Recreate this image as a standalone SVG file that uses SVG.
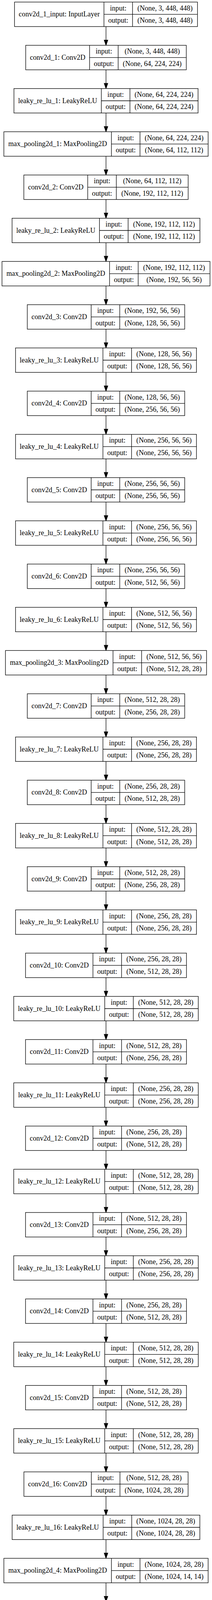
<svg xmlns="http://www.w3.org/2000/svg" width="544" height="6381" viewBox="0 0 544 6381">
<style>
.n rect{fill:#fff;stroke:#000;stroke-width:1.33}
.n path{fill:none;stroke:#000;stroke-width:1.33}
text{font-family:"Liberation Serif","Times New Roman",serif;font-size:18.14px;text-anchor:middle;fill:#000}
.e{fill:none;stroke:#000;stroke-width:1.33;marker-end:url(#arr)}
</style>
<defs>
<marker id="arr" markerUnits="userSpaceOnUse" viewBox="0 0 14 10" markerWidth="14" markerHeight="10" refX="14" refY="5" orient="auto" overflow="visible"><path d="M0.67,0.33L14,5L0.67,9.67Z" fill="#000" stroke="#000" stroke-width="1.33"/></marker>
</defs>
<rect width="544" height="6381" fill="#fff"/>
<g id="edges">
<path class="e" d="M272,68v48"/>
<path class="e" d="M272,178.67v48"/>
<path class="e" d="M272,289.33v48"/>
<path class="e" d="M272,400v48"/>
<path class="e" d="M272,510.67v48"/>
<path class="e" d="M272,621.33v48"/>
<path class="e" d="M272,732v48"/>
<path class="e" d="M272,842.67v48"/>
<path class="e" d="M272,953.33v48"/>
<path class="e" d="M272,1064v48"/>
<path class="e" d="M272,1174.67v48"/>
<path class="e" d="M272,1285.33v48"/>
<path class="e" d="M272,1396v48"/>
<path class="e" d="M272,1506.67v48"/>
<path class="e" d="M272,1617.33v48"/>
<path class="e" d="M272,1728v48"/>
<path class="e" d="M272,1838.67v48"/>
<path class="e" d="M272,1949.33v48"/>
<path class="e" d="M272,2060v48"/>
<path class="e" d="M272,2170.67v48"/>
<path class="e" d="M272,2281.33v48"/>
<path class="e" d="M272,2392v48"/>
<path class="e" d="M272,2502.67v48"/>
<path class="e" d="M272,2613.33v48"/>
<path class="e" d="M272,2724v48"/>
<path class="e" d="M272,2834.67v48"/>
<path class="e" d="M272,2945.33v48"/>
<path class="e" d="M272,3056v48"/>
<path class="e" d="M272,3166.67v48"/>
<path class="e" d="M272,3277.33v48"/>
<path class="e" d="M272,3388v48"/>
<path class="e" d="M272,3498.67v48"/>
<path class="e" d="M272,3609.33v48"/>
<path class="e" d="M272,3720v48"/>
<path class="e" d="M272,3830.67v48"/>
<path class="e" d="M272,3941.33v48"/>
<path class="e" d="M272,4052v48"/>
<path class="e" d="M272,4162.67v48"/>
<path class="e" d="M272,4273.33v48"/>
<path class="e" d="M272,4384v48"/>
<path class="e" d="M272,4494.67v48"/>
<path class="e" d="M272,4605.33v48"/>
<path class="e" d="M272,4716v48"/>
<path class="e" d="M272,4826.67v48"/>
<path class="e" d="M272,4937.33v48"/>
<path class="e" d="M272,5048v48"/>
<path class="e" d="M272,5158.67v48"/>
<path class="e" d="M272,5269.33v48"/>
<path class="e" d="M272,5380v48"/>
<path class="e" d="M272,5490.67v48"/>
<path class="e" d="M272,5601.33v48"/>
<path class="e" d="M272,5712v48"/>
<path class="e" d="M272,5822.67v48"/>
<path class="e" d="M272,5933.33v48"/>
<path class="e" d="M272,6044v48"/>
<path class="e" d="M272,6154.67v48"/>
<path class="e" d="M272,6265.33v48"/>
</g>
<g id="n0" class="n" transform="translate(37.3,5.33)"><rect width="469.4" height="62.67"/><path d="M229.4,0V62.67M302.8,0V62.67M229.4,31.33H469.4"/><text x="114.7" y="36.93">conv2d_1_input: InputLayer</text><text x="266.1" y="21.27">input:</text><text x="266.1" y="52.6">output:</text><text x="386.1" y="21.27">(None, 3, 448, 448)</text><text x="386.1" y="52.6">(None, 3, 448, 448)</text></g>
<g id="n1" class="n" transform="translate(65.95,116)"><rect width="412.1" height="62.67"/><path d="M163.9,0V62.67M237.3,0V62.67M163.9,31.33H412.1"/><text x="81.95" y="36.93">conv2d_1: Conv2D</text><text x="200.6" y="21.27">input:</text><text x="200.6" y="52.6">output:</text><text x="324.7" y="21.27">(None, 3, 448, 448)</text><text x="324.7" y="52.6">(None, 64, 224, 224)</text></g>
<g id="n2" class="n" transform="translate(35.75,226.67)"><rect width="472.5" height="62.67"/><path d="M224.3,0V62.67M297.7,0V62.67M224.3,31.33H472.5"/><text x="112.15" y="36.93">leaky_re_lu_1: LeakyReLU</text><text x="261" y="21.27">input:</text><text x="261" y="52.6">output:</text><text x="385.1" y="21.27">(None, 64, 224, 224)</text><text x="385.1" y="52.6">(None, 64, 224, 224)</text></g>
<g id="n3" class="n" transform="translate(9.9,337.33)"><rect width="524.2" height="62.67"/><path d="M276,0V62.67M349.4,0V62.67M276,31.33H524.2"/><text x="138" y="36.93">max_pooling2d_1: MaxPooling2D</text><text x="312.7" y="21.27">input:</text><text x="312.7" y="52.6">output:</text><text x="436.8" y="21.27">(None, 64, 224, 224)</text><text x="436.8" y="52.6">(None, 64, 112, 112)</text></g>
<g id="n4" class="n" transform="translate(61.2,448)"><rect width="421.6" height="62.67"/><path d="M163.9,0V62.67M237.3,0V62.67M163.9,31.33H421.6"/><text x="81.95" y="36.93">conv2d_2: Conv2D</text><text x="200.6" y="21.27">input:</text><text x="200.6" y="52.6">output:</text><text x="329.45" y="21.27">(None, 64, 112, 112)</text><text x="329.45" y="52.6">(None, 192, 112, 112)</text></g>
<g id="n5" class="n" transform="translate(31,558.67)"><rect width="482" height="62.67"/><path d="M224.3,0V62.67M297.7,0V62.67M224.3,31.33H482"/><text x="112.15" y="36.93">leaky_re_lu_2: LeakyReLU</text><text x="261" y="21.27">input:</text><text x="261" y="52.6">output:</text><text x="389.85" y="21.27">(None, 192, 112, 112)</text><text x="389.85" y="52.6">(None, 192, 112, 112)</text></g>
<g id="n6" class="n" transform="translate(5.15,669.33)"><rect width="533.7" height="62.67"/><path d="M276,0V62.67M349.4,0V62.67M276,31.33H533.7"/><text x="138" y="36.93">max_pooling2d_2: MaxPooling2D</text><text x="312.7" y="21.27">input:</text><text x="312.7" y="52.6">output:</text><text x="441.55" y="21.27">(None, 192, 112, 112)</text><text x="441.55" y="52.6">(None, 192, 56, 56)</text></g>
<g id="n7" class="n" transform="translate(70.05,780)"><rect width="403.9" height="62.67"/><path d="M163.9,0V62.67M237.3,0V62.67M163.9,31.33H403.9"/><text x="81.95" y="36.93">conv2d_3: Conv2D</text><text x="200.6" y="21.27">input:</text><text x="200.6" y="52.6">output:</text><text x="320.6" y="21.27">(None, 192, 56, 56)</text><text x="320.6" y="52.6">(None, 128, 56, 56)</text></g>
<g id="n8" class="n" transform="translate(39.85,890.67)"><rect width="464.3" height="62.67"/><path d="M224.3,0V62.67M297.7,0V62.67M224.3,31.33H464.3"/><text x="112.15" y="36.93">leaky_re_lu_3: LeakyReLU</text><text x="261" y="21.27">input:</text><text x="261" y="52.6">output:</text><text x="381" y="21.27">(None, 128, 56, 56)</text><text x="381" y="52.6">(None, 128, 56, 56)</text></g>
<g id="n9" class="n" transform="translate(70.05,1001.33)"><rect width="403.9" height="62.67"/><path d="M163.9,0V62.67M237.3,0V62.67M163.9,31.33H403.9"/><text x="81.95" y="36.93">conv2d_4: Conv2D</text><text x="200.6" y="21.27">input:</text><text x="200.6" y="52.6">output:</text><text x="320.6" y="21.27">(None, 128, 56, 56)</text><text x="320.6" y="52.6">(None, 256, 56, 56)</text></g>
<g id="n10" class="n" transform="translate(39.85,1112)"><rect width="464.3" height="62.67"/><path d="M224.3,0V62.67M297.7,0V62.67M224.3,31.33H464.3"/><text x="112.15" y="36.93">leaky_re_lu_4: LeakyReLU</text><text x="261" y="21.27">input:</text><text x="261" y="52.6">output:</text><text x="381" y="21.27">(None, 256, 56, 56)</text><text x="381" y="52.6">(None, 256, 56, 56)</text></g>
<g id="n11" class="n" transform="translate(70.05,1222.67)"><rect width="403.9" height="62.67"/><path d="M163.9,0V62.67M237.3,0V62.67M163.9,31.33H403.9"/><text x="81.95" y="36.93">conv2d_5: Conv2D</text><text x="200.6" y="21.27">input:</text><text x="200.6" y="52.6">output:</text><text x="320.6" y="21.27">(None, 256, 56, 56)</text><text x="320.6" y="52.6">(None, 256, 56, 56)</text></g>
<g id="n12" class="n" transform="translate(39.85,1333.33)"><rect width="464.3" height="62.67"/><path d="M224.3,0V62.67M297.7,0V62.67M224.3,31.33H464.3"/><text x="112.15" y="36.93">leaky_re_lu_5: LeakyReLU</text><text x="261" y="21.27">input:</text><text x="261" y="52.6">output:</text><text x="381" y="21.27">(None, 256, 56, 56)</text><text x="381" y="52.6">(None, 256, 56, 56)</text></g>
<g id="n13" class="n" transform="translate(70.05,1444)"><rect width="403.9" height="62.67"/><path d="M163.9,0V62.67M237.3,0V62.67M163.9,31.33H403.9"/><text x="81.95" y="36.93">conv2d_6: Conv2D</text><text x="200.6" y="21.27">input:</text><text x="200.6" y="52.6">output:</text><text x="320.6" y="21.27">(None, 256, 56, 56)</text><text x="320.6" y="52.6">(None, 512, 56, 56)</text></g>
<g id="n14" class="n" transform="translate(39.85,1554.67)"><rect width="464.3" height="62.67"/><path d="M224.3,0V62.67M297.7,0V62.67M224.3,31.33H464.3"/><text x="112.15" y="36.93">leaky_re_lu_6: LeakyReLU</text><text x="261" y="21.27">input:</text><text x="261" y="52.6">output:</text><text x="381" y="21.27">(None, 512, 56, 56)</text><text x="381" y="52.6">(None, 512, 56, 56)</text></g>
<g id="n15" class="n" transform="translate(14,1665.33)"><rect width="516" height="62.67"/><path d="M276,0V62.67M349.4,0V62.67M276,31.33H516"/><text x="138" y="36.93">max_pooling2d_3: MaxPooling2D</text><text x="312.7" y="21.27">input:</text><text x="312.7" y="52.6">output:</text><text x="432.7" y="21.27">(None, 512, 56, 56)</text><text x="432.7" y="52.6">(None, 512, 28, 28)</text></g>
<g id="n16" class="n" transform="translate(70.05,1776)"><rect width="403.9" height="62.67"/><path d="M163.9,0V62.67M237.3,0V62.67M163.9,31.33H403.9"/><text x="81.95" y="36.93">conv2d_7: Conv2D</text><text x="200.6" y="21.27">input:</text><text x="200.6" y="52.6">output:</text><text x="320.6" y="21.27">(None, 512, 28, 28)</text><text x="320.6" y="52.6">(None, 256, 28, 28)</text></g>
<g id="n17" class="n" transform="translate(39.85,1886.67)"><rect width="464.3" height="62.67"/><path d="M224.3,0V62.67M297.7,0V62.67M224.3,31.33H464.3"/><text x="112.15" y="36.93">leaky_re_lu_7: LeakyReLU</text><text x="261" y="21.27">input:</text><text x="261" y="52.6">output:</text><text x="381" y="21.27">(None, 256, 28, 28)</text><text x="381" y="52.6">(None, 256, 28, 28)</text></g>
<g id="n18" class="n" transform="translate(70.05,1997.33)"><rect width="403.9" height="62.67"/><path d="M163.9,0V62.67M237.3,0V62.67M163.9,31.33H403.9"/><text x="81.95" y="36.93">conv2d_8: Conv2D</text><text x="200.6" y="21.27">input:</text><text x="200.6" y="52.6">output:</text><text x="320.6" y="21.27">(None, 256, 28, 28)</text><text x="320.6" y="52.6">(None, 512, 28, 28)</text></g>
<g id="n19" class="n" transform="translate(39.85,2108)"><rect width="464.3" height="62.67"/><path d="M224.3,0V62.67M297.7,0V62.67M224.3,31.33H464.3"/><text x="112.15" y="36.93">leaky_re_lu_8: LeakyReLU</text><text x="261" y="21.27">input:</text><text x="261" y="52.6">output:</text><text x="381" y="21.27">(None, 512, 28, 28)</text><text x="381" y="52.6">(None, 512, 28, 28)</text></g>
<g id="n20" class="n" transform="translate(70.05,2218.67)"><rect width="403.9" height="62.67"/><path d="M163.9,0V62.67M237.3,0V62.67M163.9,31.33H403.9"/><text x="81.95" y="36.93">conv2d_9: Conv2D</text><text x="200.6" y="21.27">input:</text><text x="200.6" y="52.6">output:</text><text x="320.6" y="21.27">(None, 512, 28, 28)</text><text x="320.6" y="52.6">(None, 256, 28, 28)</text></g>
<g id="n21" class="n" transform="translate(39.85,2329.33)"><rect width="464.3" height="62.67"/><path d="M224.3,0V62.67M297.7,0V62.67M224.3,31.33H464.3"/><text x="112.15" y="36.93">leaky_re_lu_9: LeakyReLU</text><text x="261" y="21.27">input:</text><text x="261" y="52.6">output:</text><text x="381" y="21.27">(None, 256, 28, 28)</text><text x="381" y="52.6">(None, 256, 28, 28)</text></g>
<g id="n22" class="n" transform="translate(65.5,2440)"><rect width="413" height="62.67"/><path d="M173,0V62.67M246.4,0V62.67M173,31.33H413"/><text x="86.5" y="36.93">conv2d_10: Conv2D</text><text x="209.7" y="21.27">input:</text><text x="209.7" y="52.6">output:</text><text x="329.7" y="21.27">(None, 256, 28, 28)</text><text x="329.7" y="52.6">(None, 512, 28, 28)</text></g>
<g id="n23" class="n" transform="translate(35.3,2550.67)"><rect width="473.4" height="62.67"/><path d="M233.4,0V62.67M306.8,0V62.67M233.4,31.33H473.4"/><text x="116.7" y="36.93">leaky_re_lu_10: LeakyReLU</text><text x="270.1" y="21.27">input:</text><text x="270.1" y="52.6">output:</text><text x="390.1" y="21.27">(None, 512, 28, 28)</text><text x="390.1" y="52.6">(None, 512, 28, 28)</text></g>
<g id="n24" class="n" transform="translate(65.5,2661.33)"><rect width="413" height="62.67"/><path d="M173,0V62.67M246.4,0V62.67M173,31.33H413"/><text x="86.5" y="36.93">conv2d_11: Conv2D</text><text x="209.7" y="21.27">input:</text><text x="209.7" y="52.6">output:</text><text x="329.7" y="21.27">(None, 512, 28, 28)</text><text x="329.7" y="52.6">(None, 256, 28, 28)</text></g>
<g id="n25" class="n" transform="translate(35.3,2772)"><rect width="473.4" height="62.67"/><path d="M233.4,0V62.67M306.8,0V62.67M233.4,31.33H473.4"/><text x="116.7" y="36.93">leaky_re_lu_11: LeakyReLU</text><text x="270.1" y="21.27">input:</text><text x="270.1" y="52.6">output:</text><text x="390.1" y="21.27">(None, 256, 28, 28)</text><text x="390.1" y="52.6">(None, 256, 28, 28)</text></g>
<g id="n26" class="n" transform="translate(65.5,2882.67)"><rect width="413" height="62.67"/><path d="M173,0V62.67M246.4,0V62.67M173,31.33H413"/><text x="86.5" y="36.93">conv2d_12: Conv2D</text><text x="209.7" y="21.27">input:</text><text x="209.7" y="52.6">output:</text><text x="329.7" y="21.27">(None, 256, 28, 28)</text><text x="329.7" y="52.6">(None, 512, 28, 28)</text></g>
<g id="n27" class="n" transform="translate(35.3,2993.33)"><rect width="473.4" height="62.67"/><path d="M233.4,0V62.67M306.8,0V62.67M233.4,31.33H473.4"/><text x="116.7" y="36.93">leaky_re_lu_12: LeakyReLU</text><text x="270.1" y="21.27">input:</text><text x="270.1" y="52.6">output:</text><text x="390.1" y="21.27">(None, 512, 28, 28)</text><text x="390.1" y="52.6">(None, 512, 28, 28)</text></g>
<g id="n28" class="n" transform="translate(65.5,3104)"><rect width="413" height="62.67"/><path d="M173,0V62.67M246.4,0V62.67M173,31.33H413"/><text x="86.5" y="36.93">conv2d_13: Conv2D</text><text x="209.7" y="21.27">input:</text><text x="209.7" y="52.6">output:</text><text x="329.7" y="21.27">(None, 512, 28, 28)</text><text x="329.7" y="52.6">(None, 256, 28, 28)</text></g>
<g id="n29" class="n" transform="translate(35.3,3214.67)"><rect width="473.4" height="62.67"/><path d="M233.4,0V62.67M306.8,0V62.67M233.4,31.33H473.4"/><text x="116.7" y="36.93">leaky_re_lu_13: LeakyReLU</text><text x="270.1" y="21.27">input:</text><text x="270.1" y="52.6">output:</text><text x="390.1" y="21.27">(None, 256, 28, 28)</text><text x="390.1" y="52.6">(None, 256, 28, 28)</text></g>
<g id="n30" class="n" transform="translate(65.5,3325.33)"><rect width="413" height="62.67"/><path d="M173,0V62.67M246.4,0V62.67M173,31.33H413"/><text x="86.5" y="36.93">conv2d_14: Conv2D</text><text x="209.7" y="21.27">input:</text><text x="209.7" y="52.6">output:</text><text x="329.7" y="21.27">(None, 256, 28, 28)</text><text x="329.7" y="52.6">(None, 512, 28, 28)</text></g>
<g id="n31" class="n" transform="translate(35.3,3436)"><rect width="473.4" height="62.67"/><path d="M233.4,0V62.67M306.8,0V62.67M233.4,31.33H473.4"/><text x="116.7" y="36.93">leaky_re_lu_14: LeakyReLU</text><text x="270.1" y="21.27">input:</text><text x="270.1" y="52.6">output:</text><text x="390.1" y="21.27">(None, 512, 28, 28)</text><text x="390.1" y="52.6">(None, 512, 28, 28)</text></g>
<g id="n32" class="n" transform="translate(65.5,3546.67)"><rect width="413" height="62.67"/><path d="M173,0V62.67M246.4,0V62.67M173,31.33H413"/><text x="86.5" y="36.93">conv2d_15: Conv2D</text><text x="209.7" y="21.27">input:</text><text x="209.7" y="52.6">output:</text><text x="329.7" y="21.27">(None, 512, 28, 28)</text><text x="329.7" y="52.6">(None, 512, 28, 28)</text></g>
<g id="n33" class="n" transform="translate(35.3,3657.33)"><rect width="473.4" height="62.67"/><path d="M233.4,0V62.67M306.8,0V62.67M233.4,31.33H473.4"/><text x="116.7" y="36.93">leaky_re_lu_15: LeakyReLU</text><text x="270.1" y="21.27">input:</text><text x="270.1" y="52.6">output:</text><text x="390.1" y="21.27">(None, 512, 28, 28)</text><text x="390.1" y="52.6">(None, 512, 28, 28)</text></g>
<g id="n34" class="n" transform="translate(61.4,3768)"><rect width="421.2" height="62.67"/><path d="M173,0V62.67M246.4,0V62.67M173,31.33H421.2"/><text x="86.5" y="36.93">conv2d_16: Conv2D</text><text x="209.7" y="21.27">input:</text><text x="209.7" y="52.6">output:</text><text x="333.8" y="21.27">(None, 512, 28, 28)</text><text x="333.8" y="52.6">(None, 1024, 28, 28)</text></g>
<g id="n35" class="n" transform="translate(31.2,3878.67)"><rect width="481.6" height="62.67"/><path d="M233.4,0V62.67M306.8,0V62.67M233.4,31.33H481.6"/><text x="116.7" y="36.93">leaky_re_lu_16: LeakyReLU</text><text x="270.1" y="21.27">input:</text><text x="270.1" y="52.6">output:</text><text x="394.2" y="21.27">(None, 1024, 28, 28)</text><text x="394.2" y="52.6">(None, 1024, 28, 28)</text></g>
<g id="n36" class="n" transform="translate(9.9,3989.33)"><rect width="524.2" height="62.67"/><path d="M276,0V62.67M349.4,0V62.67M276,31.33H524.2"/><text x="138" y="36.93">max_pooling2d_4: MaxPooling2D</text><text x="312.7" y="21.27">input:</text><text x="312.7" y="52.6">output:</text><text x="436.8" y="21.27">(None, 1024, 28, 28)</text><text x="436.8" y="52.6">(None, 1024, 14, 14)</text></g>
<g id="n37" class="n" transform="translate(61.4,4100)"><rect width="421.2" height="62.67"/><path d="M173,0V62.67M246.4,0V62.67M173,31.33H421.2"/><text x="86.5" y="36.93">conv2d_17: Conv2D</text><text x="209.7" y="21.27">input:</text><text x="209.7" y="52.6">output:</text><text x="333.8" y="21.27">(None, 1024, 14, 14)</text><text x="333.8" y="52.6">(None, 512, 14, 14)</text></g>
<g id="n38" class="n" transform="translate(35.3,4210.67)"><rect width="473.4" height="62.67"/><path d="M233.4,0V62.67M306.8,0V62.67M233.4,31.33H473.4"/><text x="116.7" y="36.93">leaky_re_lu_17: LeakyReLU</text><text x="270.1" y="21.27">input:</text><text x="270.1" y="52.6">output:</text><text x="390.1" y="21.27">(None, 512, 14, 14)</text><text x="390.1" y="52.6">(None, 512, 14, 14)</text></g>
<g id="n39" class="n" transform="translate(61.4,4321.33)"><rect width="421.2" height="62.67"/><path d="M173,0V62.67M246.4,0V62.67M173,31.33H421.2"/><text x="86.5" y="36.93">conv2d_18: Conv2D</text><text x="209.7" y="21.27">input:</text><text x="209.7" y="52.6">output:</text><text x="333.8" y="21.27">(None, 512, 14, 14)</text><text x="333.8" y="52.6">(None, 1024, 14, 14)</text></g>
<g id="n40" class="n" transform="translate(31.2,4432)"><rect width="481.6" height="62.67"/><path d="M233.4,0V62.67M306.8,0V62.67M233.4,31.33H481.6"/><text x="116.7" y="36.93">leaky_re_lu_18: LeakyReLU</text><text x="270.1" y="21.27">input:</text><text x="270.1" y="52.6">output:</text><text x="394.2" y="21.27">(None, 1024, 14, 14)</text><text x="394.2" y="52.6">(None, 1024, 14, 14)</text></g>
<g id="n41" class="n" transform="translate(61.4,4542.67)"><rect width="421.2" height="62.67"/><path d="M173,0V62.67M246.4,0V62.67M173,31.33H421.2"/><text x="86.5" y="36.93">conv2d_19: Conv2D</text><text x="209.7" y="21.27">input:</text><text x="209.7" y="52.6">output:</text><text x="333.8" y="21.27">(None, 1024, 14, 14)</text><text x="333.8" y="52.6">(None, 512, 14, 14)</text></g>
<g id="n42" class="n" transform="translate(35.3,4653.33)"><rect width="473.4" height="62.67"/><path d="M233.4,0V62.67M306.8,0V62.67M233.4,31.33H473.4"/><text x="116.7" y="36.93">leaky_re_lu_19: LeakyReLU</text><text x="270.1" y="21.27">input:</text><text x="270.1" y="52.6">output:</text><text x="390.1" y="21.27">(None, 512, 14, 14)</text><text x="390.1" y="52.6">(None, 512, 14, 14)</text></g>
<g id="n43" class="n" transform="translate(61.4,4764)"><rect width="421.2" height="62.67"/><path d="M173,0V62.67M246.4,0V62.67M173,31.33H421.2"/><text x="86.5" y="36.93">conv2d_20: Conv2D</text><text x="209.7" y="21.27">input:</text><text x="209.7" y="52.6">output:</text><text x="333.8" y="21.27">(None, 512, 14, 14)</text><text x="333.8" y="52.6">(None, 1024, 14, 14)</text></g>
<g id="n44" class="n" transform="translate(31.2,4874.67)"><rect width="481.6" height="62.67"/><path d="M233.4,0V62.67M306.8,0V62.67M233.4,31.33H481.6"/><text x="116.7" y="36.93">leaky_re_lu_20: LeakyReLU</text><text x="270.1" y="21.27">input:</text><text x="270.1" y="52.6">output:</text><text x="394.2" y="21.27">(None, 1024, 14, 14)</text><text x="394.2" y="52.6">(None, 1024, 14, 14)</text></g>
<g id="n45" class="n" transform="translate(61.4,4985.33)"><rect width="421.2" height="62.67"/><path d="M173,0V62.67M246.4,0V62.67M173,31.33H421.2"/><text x="86.5" y="36.93">conv2d_21: Conv2D</text><text x="209.7" y="21.27">input:</text><text x="209.7" y="52.6">output:</text><text x="333.8" y="21.27">(None, 1024, 14, 14)</text><text x="333.8" y="52.6">(None, 1024, 14, 14)</text></g>
<g id="n46" class="n" transform="translate(31.2,5096)"><rect width="481.6" height="62.67"/><path d="M233.4,0V62.67M306.8,0V62.67M233.4,31.33H481.6"/><text x="116.7" y="36.93">leaky_re_lu_21: LeakyReLU</text><text x="270.1" y="21.27">input:</text><text x="270.1" y="52.6">output:</text><text x="394.2" y="21.27">(None, 1024, 14, 14)</text><text x="394.2" y="52.6">(None, 1024, 14, 14)</text></g>
<g id="n47" class="n" transform="translate(61.4,5206.67)"><rect width="421.2" height="62.67"/><path d="M173,0V62.67M246.4,0V62.67M173,31.33H421.2"/><text x="86.5" y="36.93">conv2d_22: Conv2D</text><text x="209.7" y="21.27">input:</text><text x="209.7" y="52.6">output:</text><text x="333.8" y="21.27">(None, 1024, 14, 14)</text><text x="333.8" y="52.6">(None, 1024, 7, 7)</text></g>
<g id="n48" class="n" transform="translate(39.8,5317.33)"><rect width="464.4" height="62.67"/><path d="M233.4,0V62.67M306.8,0V62.67M233.4,31.33H464.4"/><text x="116.7" y="36.93">leaky_re_lu_22: LeakyReLU</text><text x="270.1" y="21.27">input:</text><text x="270.1" y="52.6">output:</text><text x="385.6" y="21.27">(None, 1024, 7, 7)</text><text x="385.6" y="52.6">(None, 1024, 7, 7)</text></g>
<g id="n49" class="n" transform="translate(70,5428)"><rect width="404" height="62.67"/><path d="M173,0V62.67M246.4,0V62.67M173,31.33H404"/><text x="86.5" y="36.93">conv2d_23: Conv2D</text><text x="209.7" y="21.27">input:</text><text x="209.7" y="52.6">output:</text><text x="325.2" y="21.27">(None, 1024, 7, 7)</text><text x="325.2" y="52.6">(None, 1024, 7, 7)</text></g>
<g id="n50" class="n" transform="translate(39.8,5538.67)"><rect width="464.4" height="62.67"/><path d="M233.4,0V62.67M306.8,0V62.67M233.4,31.33H464.4"/><text x="116.7" y="36.93">leaky_re_lu_23: LeakyReLU</text><text x="270.1" y="21.27">input:</text><text x="270.1" y="52.6">output:</text><text x="385.6" y="21.27">(None, 1024, 7, 7)</text><text x="385.6" y="52.6">(None, 1024, 7, 7)</text></g>
<g id="n51" class="n" transform="translate(70,5649.33)"><rect width="404" height="62.67"/><path d="M173,0V62.67M246.4,0V62.67M173,31.33H404"/><text x="86.5" y="36.93">conv2d_24: Conv2D</text><text x="209.7" y="21.27">input:</text><text x="209.7" y="52.6">output:</text><text x="325.2" y="21.27">(None, 1024, 7, 7)</text><text x="325.2" y="52.6">(None, 1024, 7, 7)</text></g>
<g id="n52" class="n" transform="translate(39.8,5760)"><rect width="464.4" height="62.67"/><path d="M233.4,0V62.67M306.8,0V62.67M233.4,31.33H464.4"/><text x="116.7" y="36.93">leaky_re_lu_24: LeakyReLU</text><text x="270.1" y="21.27">input:</text><text x="270.1" y="52.6">output:</text><text x="385.6" y="21.27">(None, 1024, 7, 7)</text><text x="385.6" y="52.6">(None, 1024, 7, 7)</text></g>
<g id="n53" class="n" transform="translate(83.25,5870.67)"><rect width="377.5" height="62.67"/><path d="M146.5,0V62.67M219.9,0V62.67M146.5,31.33H377.5"/><text x="73.25" y="36.93">flatten_1: Flatten</text><text x="183.2" y="21.27">input:</text><text x="183.2" y="52.6">output:</text><text x="298.7" y="21.27">(None, 1024, 7, 7)</text><text x="298.7" y="52.6">(None, 50176)</text></g>
<g id="n54" class="n" transform="translate(103.3,5981.33)"><rect width="337.4" height="62.67"/><path d="M135.9,0V62.67M209.3,0V62.67M135.9,31.33H337.4"/><text x="67.95" y="36.93">dense_1: Dense</text><text x="172.6" y="21.27">input:</text><text x="172.6" y="52.6">output:</text><text x="273.35" y="21.27">(None, 50176)</text><text x="273.35" y="52.6">(None, 4096)</text></g>
<g id="n55" class="n" transform="translate(59.3,6092)"><rect width="425.4" height="62.67"/><path d="M233.4,0V62.67M306.8,0V62.67M233.4,31.33H425.4"/><text x="116.7" y="36.93">leaky_re_lu_25: LeakyReLU</text><text x="270.1" y="21.27">input:</text><text x="270.1" y="52.6">output:</text><text x="366.1" y="21.27">(None, 4096)</text><text x="366.1" y="52.6">(None, 4096)</text></g>
<g id="n56" class="n" transform="translate(92.75,6202.67)"><rect width="358.5" height="62.67"/><path d="M166.5,0V62.67M239.9,0V62.67M166.5,31.33H358.5"/><text x="83.25" y="36.93">dropout_1: Dropout</text><text x="203.2" y="21.27">input:</text><text x="203.2" y="52.6">output:</text><text x="299.2" y="21.27">(None, 4096)</text><text x="299.2" y="52.6">(None, 4096)</text></g>
<g id="n57" class="n" transform="translate(108.05,6313.33)"><rect width="327.9" height="62.67"/><path d="M135.9,0V62.67M209.3,0V62.67M135.9,31.33H327.9"/><text x="67.95" y="36.93">dense_2: Dense</text><text x="172.6" y="21.27">input:</text><text x="172.6" y="52.6">output:</text><text x="268.6" y="21.27">(None, 4096)</text><text x="268.6" y="52.6">(None, 1470)</text></g>
</svg>
